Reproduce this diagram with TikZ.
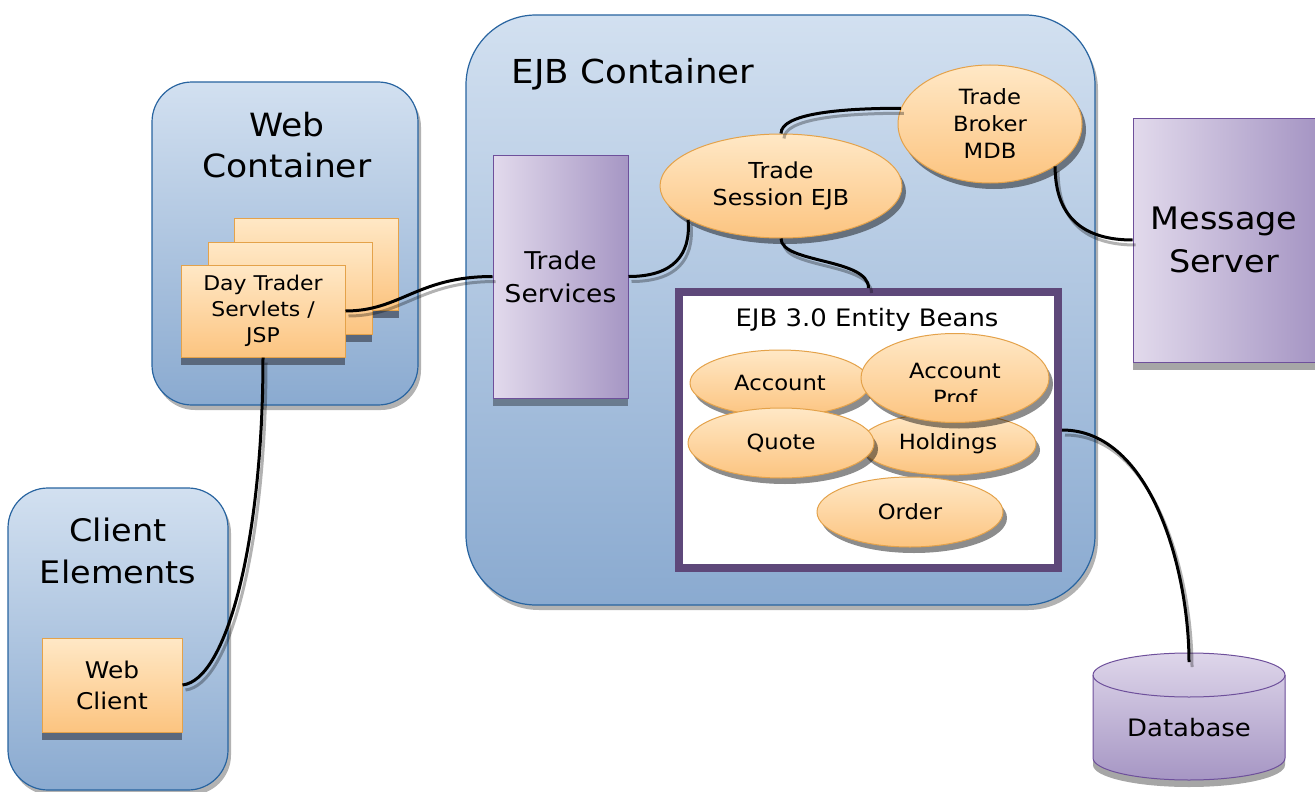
\documentclass[tikz,border=0pt]{standalone}
\usepackage{fontspec}
\setmainfont{DejaVu Sans}[FakeStretch=1.08]
\usetikzlibrary{shapes.geometric,shadows,calc}
\newcommand\fsz[2]{\fontsize{#1}{#2}\selectfont}
\definecolor{contT}{RGB}{210,224,240}
\definecolor{contB}{RGB}{138,170,208}
\definecolor{contD}{RGB}{40,100,160}
\definecolor{orT}{RGB}{255,232,198}
\definecolor{orB}{RGB}{252,196,128}
\definecolor{orD}{RGB}{228,162,74}
\definecolor{puL}{RGB}{226,218,236}
\definecolor{puR}{RGB}{166,150,196}
\definecolor{puD}{RGB}{110,80,155}
\definecolor{dbT}{RGB}{222,214,234}
\definecolor{ebD}{RGB}{94,72,122}
\definecolor{shOr}{RGB}{90,104,125}
\begin{document}
\begin{tikzpicture}[x=1pt,y=-1pt,
  container/.style={draw=contD, line width=1.2pt, rounded corners=40pt, top color=contT, bottom color=contB,
    drop shadow={shadow xshift=3pt,shadow yshift=-5pt,fill=black,opacity=.3}, inner sep=0pt},
  orbox/.style={draw=orD, line width=1pt, top color=orT, bottom color=orB, minimum width=164pt, minimum height=92pt,
    inner sep=0pt, drop shadow={shadow xshift=0pt,shadow yshift=-8pt,fill=shOr,opacity=1}},
  bean/.style={ellipse, draw=orD, line width=1pt, top color=orT, bottom color=orB, inner sep=0pt, align=center,
    font=\fsz{21}{27}, drop shadow={shadow xshift=4pt,shadow yshift=-6pt,fill=black,opacity=.45}},
  pubox/.style={draw=puD, line width=1pt, left color=puL, right color=puR, inner sep=0pt, align=center,
    drop shadow={shadow xshift=0pt,shadow yshift=-8pt,fill=black,opacity=.35}},
  conn/.style={line width=3pt, black, preaction={draw=black, opacity=.3, line width=3pt, transform canvas={shift={(3pt,-5pt)}}}}
]
\useasboundingbox (0,0) rectangle (1315,792);

% containers
\node[container, minimum width=266pt, minimum height=323pt] (web) at (285,243.5) {};
\node[container, rounded corners=70pt, minimum width=629pt, minimum height=590pt] (ejb) at (780.5,310) {};
\node[container, minimum width=220pt, minimum height=302pt] (cli) at (118,639) {};

\node[align=center, font=\fsz{32}{41}] (webt) at (287,145) {Web\\Container};
\node[anchor=west, font=\fsz{33}{41}] (ejbt) at (508,74) {EJB Container};
\node[align=center, font=\fsz{31}{42}] (clit) at (118,551) {Client\\Elements};

% purple boxes
\node[pubox, minimum width=182pt, minimum height=244pt, font=\fsz{31}{43}] (ms) at (1224,240) {Message\\Server};
\node[pubox, minimum width=135pt, minimum height=243pt, font=\fsz{24.5}{33}] (ts) at (560.5,276.5) {Trade\\Services};

% database
\path[draw=puD, line width=1pt, top color=dbT, bottom color=puR,
  drop shadow={shadow xshift=0pt,shadow yshift=-7pt,fill=black,opacity=.35}]
  (1093,675) -- (1093,758) arc[start angle=180,end angle=360,x radius=96pt,y radius=22pt]
  -- (1285,675) arc[start angle=0,end angle=180,x radius=96pt,y radius=22pt] -- cycle;
\draw[puD, line width=1pt] (1093,675) arc[start angle=180,end angle=360,x radius=96pt,y radius=22pt];
\node[font=\fsz{24}{28}] (db) at (1189,728) {Database};
\coordinate (dbtop) at (1189,662);

% day trader stack
\node[orbox] (dt3) at (316.5,264) {};
\node[orbox] (dt2) at (290,288) {};
\node[orbox, align=center, font=\fsz{20.3}{26}] (dt1) at (263,311) {Day Trader\\Servlets /\\JSP};
\node[orbox, minimum width=140pt, minimum height=94pt, align=center, font=\fsz{23}{31}] (wc) at (112,685) {Web\\Client};

% session / broker
\node[bean, minimum width=242pt, minimum height=104pt, font=\fsz{22}{27}] (tse) at (781,186) {Trade\\Session EJB};
\node[bean, minimum width=184pt, minimum height=118pt] (tbm) at (990,124) {Trade\\Broker\\MDB};

% entity beans
\node[draw=ebD, line width=8pt, fill=white, minimum width=379pt, minimum height=276pt] (eb) at (868.5,430) {};
\node[font=\fsz{24}{28}] (ebt) at (867,320) {EJB 3.0 Entity Beans};

\node[bean, minimum width=180pt, minimum height=66pt] (acc) at (780,383) {Account};
\node[bean, minimum width=176pt, minimum height=62pt] (hold) at (948,444) {Holdings};
\node[bean, minimum width=188pt, minimum height=89pt] (aprof) at (955,378) {};
\begin{scope}
  \clip (860,335) rectangle (1052,401);
  \node[align=center, font=\fsz{21}{27}] (aproft) at (955,384) {Account\\Prof};
\end{scope}
\node[bean, minimum width=186pt, minimum height=70pt] (quote) at (781,443) {Quote};
\node[bean, minimum width=186pt, minimum height=70pt] (order) at (910,512) {Order};

% connectors
\draw[conn] (wc.east) .. controls +(45,-5) and +(0,180) .. (dt1.south);
\draw[conn] (dt1.east) .. controls +(55,0) and +(-75,0) .. (ts.west);
\draw[conn] (ts.east) .. controls +(45,0) and +(3,35) .. (tse.200);
\draw[conn] (tse.south) .. controls +(0,25) and +(0,-30) .. (eb.north);
\draw[conn] (tse.north) .. controls +(0,-20) and +(-60,0) .. (tbm.170);
\draw[conn] (tbm.-33) .. controls +(0,50) and +(-50,0) .. (ms.west);
\draw[conn] (eb.east) .. controls +(90,0) and +(0,-90) .. (dbtop);
\end{tikzpicture}
\end{document}
